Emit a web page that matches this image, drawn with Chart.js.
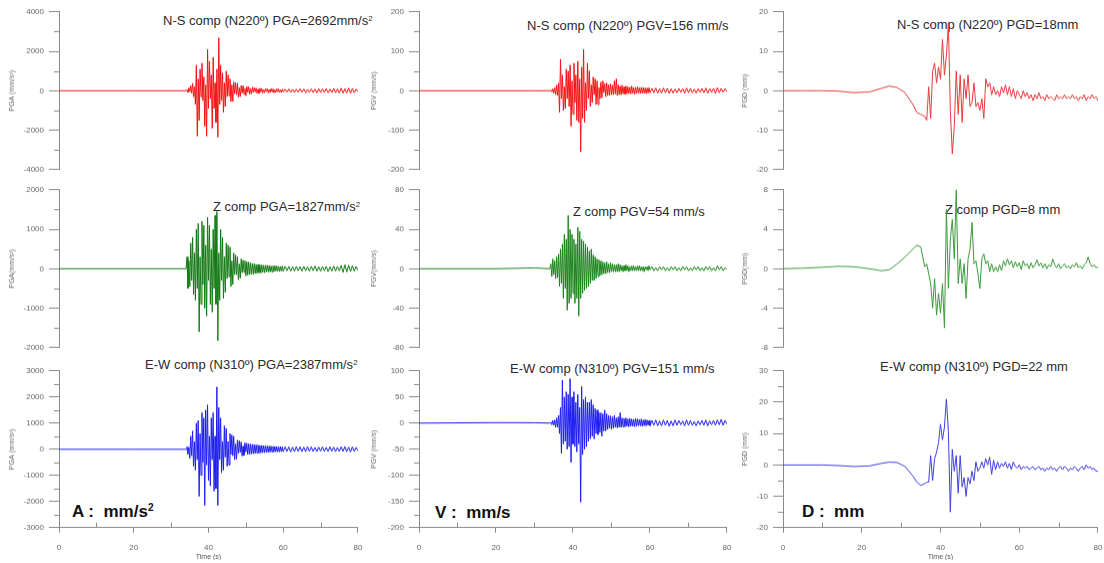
<!DOCTYPE html>
<html lang="en">
<head>
<meta charset="UTF-8">
<title>Strong motion records: acceleration, velocity, displacement</title>
<script src="https://cdn.jsdelivr.net/npm/chart.js"></script>
<style>
  body { margin: 0; width: 1104px; height: 563px; position: relative; overflow: hidden; background: #fff;
         font-family: Arial, "Liberation Sans", sans-serif; }
  canvas { position: absolute; }
  .lbl { position: absolute; white-space: nowrap; color: #2a2a2a; font-size: 13px; line-height: 1; }
  .big { position: absolute; white-space: nowrap; color: #111; font-size: 17px; font-weight: bold; line-height: 1; }
  sup { font-size: 0.6em; vertical-align: 0.55em; line-height: 0; }
</style>
</head>
<body>
<div class="lbl" style="left:163px;top:14px">N-S comp (N220º) PGA=2692mm/s<sup>2</sup></div>
<div class="lbl" style="left:527px;top:19px">N-S comp (N220º) PGV=156 mm/s</div>
<div class="lbl" style="left:897px;top:18px">N-S comp (N220º) PGD=18mm</div>
<div class="lbl" style="left:213px;top:200px">Z comp PGA=1827mm/s<sup>2</sup></div>
<div class="lbl" style="left:573px;top:205px">Z comp PGV=54 mm/s</div>
<div class="lbl" style="left:945px;top:203px">Z comp PGD=8 mm</div>
<div class="lbl" style="left:145px;top:358px">E-W comp (N310º) PGA=2387mm/s<sup>2</sup></div>
<div class="lbl" style="left:510px;top:362px">E-W comp (N310º) PGV=151 mm/s</div>
<div class="lbl" style="left:880px;top:360px">E-W comp (N310º) PGD=22 mm</div>
<div class="big" style="left:72px;top:503px">A :&nbsp; mm/s<sup>2</sup></div>
<div class="big" style="left:435px;top:504px">V :&nbsp; mm/s</div>
<div class="big" style="left:802px;top:503px">D :&nbsp; mm</div>

<script>
// sample times (s) for acceleration / velocity traces
const timeAV = [0, 20, 30, 34,
  34.25,34.5,34.75,35, 35.25,35.5,35.75,36, 36.25,36.5,36.75,37, 37.25,37.5,37.75,38,
  38.25,38.5,38.75,39, 39.25,39.5,39.75,40, 40.25,40.5,40.75,41, 41.25,41.5,41.75,42,
  42.25,42.5,42.75,43, 43.25,43.5,43.75,44, 44.25,44.5,44.75,45, 45.25,45.5,45.75,46,
  46.25,46.5,46.75,47, 47.25,47.5,47.75,48, 48.25,48.5,48.75,49, 49.25,49.5,49.75,50,
  50.25,50.5,50.75,51, 51.25,51.5,51.75,52, 52.25,52.5,52.75,53, 53.25,53.5,53.75,54,
  54.25,54.5,54.75,55, 55.25,55.5,55.75,56, 56.25,56.5,56.75,57, 57.25,57.5,57.75,58,
  58.25,58.5,58.75,59, 59.25,59.5,59.75,60,
  60.5,61,61.5,62,62.5,63,63.5,64,64.5,65, 65.5,66,66.5,67,67.5,68,68.5,69,69.5,70,
  70.5,71,71.5,72,72.5,73,73.5,74,74.5,75, 75.5,76,76.5,77,77.5,78,78.5,79,79.5,80];

// sample times (s) for displacement traces
const timeD = [0,5,10,14,18,22,25,27,29,31,33,34,35,36,
  36.5,37,37.5,38,38.5,39,39.5,40,40.5,41, 41.5,42,42.5,43,43.5,44,44.5,45,45.5,46,
  46.5,47,47.5,48,48.5,49,49.5,50,50.5,51, 51.5,52,52.5,53,53.5,54,54.5,55,55.5,56,
  56.5,57,57.5,58,58.5,59,59.5,60,60.5,61, 61.5,62,62.5,63,63.5,64,64.5,65,65.5,66,
  66.5,67,67.5,68,68.5,69,69.5,70,70.5,71, 71.5,72,72.5,73,73.5,74,74.5,75,75.5,76,
  76.5,77,77.5,78,78.5,79,79.5,80];

// acceleration (mm/s2)
const nsAcc = [0,0,0,0,
  40,-80,150,-60, 250,-120,380,-300, 200,-700,1300,-2300, 600,-1500,1100,-300,
  1400,-500,700,-1800, 300,-2300,2100,-900, 1500,-400,800,-1900, 1700,-900,400,-1600,
  1100,-2350,2692,-700, 1300,-500,900,-1100, 400,-800,1000,-300, 800,-250,600,-550,
  300,-550,450,-150, 420,-200,380,-330, 150,-300,260,-120, 260,-180,120,-250,
  220,-90,200,-170, 100,-160,180,-80, 160,-60,140,-130, 80,-140,130,-60,
  120,-110,50,-100, 110,-40,100,-110, 60,-90,110,-50, 90,-100,40,-90,
  100,-50,90,-90, 40,-90,85,-60,
  80,-70,90,-80,70,-90,80,-70,100,-80, 90,-100,70,-80,90,-90,80,-110,100,-90,
  90,-80,110,-100,80,-90,120,-100,90,-110, 130,-120,100,-110,140,-130,120,-100,80,-60];
const zAcc = [0,0,0,0,
  300,-500,200,-450, 650,-300,800,-650, 400,-800,1000,-500, 1150,-1600,300,-900,
  1200,-400,1100,-1000, 600,-1200,1300,-300, 1100,-900,500,-1100, 1000,-500,1350,-900,
  1450,-1827,400,-800, 1000,-300,800,-750, 300,-600,650,-250, 600,-200,550,-450,
  200,-400,400,-150, 350,-150,300,-280, 120,-240,250,-100, 220,-90,200,-180,
  180,-160,170,-150, 150,-140,130,-140, 130,-120,110,-120, 110,-100,100,-110,
  100,-90,90,-100, 90,-80,90,-80, 80,-80,70,-80, 70,-70,80,-60,
  70,-60,60,-70, 60,-60,70,-60,
  60,-50,60,-60,50,-60,60,-50,50,-60, 60,-50,50,-60,60,-50,70,-60,50,-60,
  60,-50,60,-70,50,-60,70,-60,60,-50, 80,-90,100,-80,90,-70,80,-60,60,-40];
const ewAcc = [0,0,0,0,
  100,-200,80,-350, 500,-250,700,-650, 300,-800,1000,-400, 1100,-1800,600,-1000,
  1400,-500,1200,-2150, 1500,-600,1700,-1200, 500,-1400,1200,-400, 1400,-1600,500,-1500,
  2387,-2150,1600,-400, 1200,-900,300,-800, 900,-300,800,-650, 300,-600,600,-200,
  550,-250,500,-400, 200,-380,350,-150, 330,-120,280,-260, 120,-240,250,-100,
  230,-200,210,-190, 200,-180,190,-170, 180,-160,170,-150, 160,-150,150,-140,
  150,-130,140,-130, 130,-120,130,-120, 120,-110,120,-100, 110,-100,110,-100,
  100,-100,90,-100, 100,-90,90,-90,
  90,-80,90,-100,80,-90,100,-80,90,-90, 80,-90,100,-80,90,-80,70,-90,80,-70,
  90,-80,70,-80,90,-70,80,-90,70,-80, 90,-80,100,-90,80,-100,90,-80,70,-60];

// velocity (mm/s)
const nsVel = [0,0,0,0,
  2,-3,5,-6, 8,-10,15,-12, 20,-55,80,-20, 40,-50,10,-45,
  55,-20,50,-40, 65,-90,25,-60, 70,-30,40,-75, 75,-80,30,-155,
  60,-70,105,-80, 20,-50,70,-20, 50,-40,15,-30, 35,-10,30,-35,
  25,-35,8,-20, 22,-18,25,-5, 18,-15,20,-12, 15,-12,18,-10,
  14,-10,25,-8, 30,-12,15,-10, 12,-10,14,-8, 10,-9,12,-8,
  10,-7,9,-8, 12,-6,8,-9, 9,-7,10,-6, 8,-7,9,-6,
  8,-6,7,-7, 7,-6,8,-5,
  6,-5,7,-6,5,-6,7,-5,6,-7, 5,-6,4,-5,6,-4,5,-6,7,-5,
  6,-5,4,-6,5,-4,6,-5,7,-6, 5,-4,6,-7,8,-5,6,-4,5,-3];
const zVel = [0,0,0.8,0,
  5,-8,10,-6, 8,-10,12,-9, 15,-18,20,-15, 25,-30,35,-20,
  30,-42,54,-35, 40,-30,35,-25, 30,-35,25,-30, 42,-48,38,-30,
  30,-25,28,-22, 25,-20,22,-18, 18,-15,20,-12, 14,-12,12,-10,
  10,-8,9,-7, 8,-6,7,-5, 6,-5,7,-4, 5,-4,6,-3,
  5,-3,4,-3, 4,-3,5,-3, 4,-2,3,-3, 3,-2,4,-2,
  3,-3,2,-2, 3,-2,3,-2, 2,-2,3,-2, 3,-2,2,-2,
  2,-3,2,-1, 2,-2,3,-1,
  2,-2,1,-2,2,-1,2,-2,1,-2, 2,-1,2,-2,1,-2,2,-1,2,-2,
  1,-2,2,-1,2,-2,1,-2,2,-1, 2,-2,1,-2,3,-1,2,-2,1,-1];
const ewVel = [0,1,0.8,0,
  2,-3,5,-4, 6,-8,10,-8, 15,-20,30,-58, 82,-40,50,-35,
  60,-50,55,-45, 85,-75,50,-40, 60,-45,40,-55, 55,-40,30,-151,
  70,-60,45,-50, 50,-45,40,-35, 40,-30,45,-25, 35,-30,28,-20,
  25,-22,20,-18, 20,-25,18,-15, 25,-15,18,-12, 15,-10,14,-12,
  12,-10,15,-8, 10,-9,12,-8, 20,-8,10,-7, 9,-7,10,-6,
  8,-7,9,-6, 8,-6,7,-7, 9,-6,8,-5, 7,-5,8,-6,
  6,-5,7,-5, 6,-4,5,-5,
  5,-4,6,-5,4,-5,6,-4,5,-6, 4,-5,6,-4,5,-3,4,-5,6,-4,
  5,-4,3,-5,4,-3,5,-4,6,-5, 4,-3,5,-4,6,-3,7,-4,5,-2];

// displacement (mm)
const nsDisp = [0,0,0,-0.1,-0.5,-0.3,0.6,1.2,0.8,-0.5,-3.5,-5.5,-6,-6.5,
  -7.5,1,-7,5,7,2,6,3,13,4, 9,17,-5,-16,-9,5,-6,4,-8,3,
  -2,4,-4,-3,2,-4,-3,-5,-2,-7, 3,1,2,-1,1,-1,0,-1.5,1,-0.5,
  1.5,-1,1,-1.5,0.5,-2,0,-1,-2,0, -1.5,-0.5,-2,-1,-2.5,-1,-2,-0.5,-2,-1.5,
  -2.5,-1,-2,-1.5,-2,-2.5,-1,-2,-1.5,-2, -1,-2,-1.5,-2,-1,-2,-1.5,-2.5,-1.5,-2,
  -1,-2.5,-1.5,-2,-1,-2,-1.5,-2.5];
const zDisp = [0,0.05,0.15,0.25,0.2,0,-0.2,-0.1,0.5,1.2,2,2.4,2.2,0.2,
  0.5,-0.5,-1.5,-4,-1,-4.7,-2.5,-4.5,-1.5,-6, 6,-2,3,5,1,8,-1.5,1,-1.5,0.5,
  -3,1,2,4.7,0.5,0.8,-0.5,-2,1,1.5, 0.5,0.8,-0.3,0.5,-0.3,0.2,-0.3,0.4,-0.2,0.8,
  0.3,1,0.4,0.8,0.1,0.7,0.2,0.6,-0.1,0.8, 0.3,0.5,0,0.6,0.1,0.4,0.9,0.3,0.6,0.1,
  0.5,0,0.4,0.2,1,0.4,0.1,0.5,0,0.3, 0.5,0.1,0.3,0,0.4,0.2,0.6,0.1,0.3,0,
  0.4,0.6,1.2,0.5,0.2,0.4,0.1,0.2];
const ewDisp = [0,0,0,-0.2,-0.5,-0.3,0.5,0.9,0.8,-0.5,-3.5,-5.5,-6.5,-6,
  -5.5,-5.5,3,-5,2,4,7,13,8,12, 21,11,-15,5,-2,3,-9,3,-7,-4,
  -10,-4,-6,-2,-5,1,-2,-1,1,-1, 2,0,2.5,-3,1.5,-1.5,1,-1,0.5,-0.5,
  1,-1,0.5,-1.5,1,-0.5,-1,0,-1.5,-0.5, -1,-0.5,-1.5,-1,-0.5,-1.5,-1,-0.5,-1.5,-1,
  -2,-1,-1.5,-0.5,-1.5,-1,-2,-1,-0.5,-1.5, -0.5,-1,-2,-1,-1.5,-0.5,-1,-2,-1,-0.5,
  -1.5,0,-1,-0.5,-1.5,-1,-2,-2];

// y axis: [min, max, major step, minor step]
const nsAccAxis = [-4000, 4000, 2000, 1000], nsVelAxis = [-200, 200, 100, 50], nsDispAxis = [-20, 20, 10, 5];
const zAccAxis = [-2000, 2000, 1000, 500], zVelAxis = [-80, 80, 40, 20], zDispAxis = [-8, 8, 4, 2];
const ewAccAxis = [-3000, 3000, 1000, 500], ewVelAxis = [-200, 100, 50, 25], ewDispAxis = [-20, 30, 10, 5];
const timeAxis = [0, 80, 20, 10];

const panels = [
  { row: 0, col: 0, t: timeAV, v: nsAcc, axis: nsAccAxis, yTitle: 'PGA (mm/s²)', color: '#f51414' },
  { row: 0, col: 1, t: timeAV, v: nsVel, axis: nsVelAxis, yTitle: 'PGV (mm/s)', color: '#f51414' },
  { row: 0, col: 2, t: timeD, v: nsDisp, axis: nsDispAxis, yTitle: 'PGD (mm)', color: '#e83c3c' },
  { row: 1, col: 0, t: timeAV, v: zAcc, axis: zAccAxis, yTitle: 'PGA(mm/s²)', color: '#147a14' },
  { row: 1, col: 1, t: timeAV, v: zVel, axis: zVelAxis, yTitle: 'PGV(mm/s)', color: '#1a841a' },
  { row: 1, col: 2, t: timeD, v: zDisp, axis: zDispAxis, yTitle: 'PGD(mm)', color: '#3a9a3a' },
  { row: 2, col: 0, t: timeAV, v: ewAcc, axis: ewAccAxis, yTitle: 'PGA (mm/s²)', color: '#1e1ef0' },
  { row: 2, col: 1, t: timeAV, v: ewVel, axis: ewVelAxis, yTitle: 'PGV (mm/s)', color: '#1e1ef0' },
  { row: 2, col: 2, t: timeD, v: ewDisp, axis: ewDispAxis, yTitle: 'PGD (mm)', color: '#4040e0' }
];

// plot area placement on the page
const colX = [59, 419, 783], colEnd = [358, 727, 1098];
const rowY = [12, 190, 371], rowEnd = [169, 347, 527];
const yTitlePad = [5, 7, 14];
const AXIS_W = 56, XAXIS_H = 33;
const AXIS_COLOR = '#8a8a8a';

Chart.defaults.font.family = 'Arial, "Liberation Sans", sans-serif';

// short minor ticks (Chart.js only draws one tick length)
const minorTicks = {
  id: 'minorTicks',
  afterDraw(chart, args, opts) {
    const ctx = chart.ctx;
    ctx.save();
    ctx.strokeStyle = AXIS_COLOR;
    ctx.lineWidth = 1;
    ctx.beginPath();
    const y = chart.scales.y;
    const [ymin, ymax, ymajor, yminor] = opts.y;
    for (let v = ymin; v <= ymax + 1e-9; v += yminor) {
      if (Math.abs(v / ymajor - Math.round(v / ymajor)) < 1e-6) continue;
      const py = Math.round(y.getPixelForValue(v)) + 0.5;
      ctx.moveTo(y.right - 5, py);
      ctx.lineTo(y.right, py);
    }
    const x = chart.scales.x;
    if (opts.x) {
      const [xmin, xmax, xmajor, xminor] = opts.x;
      for (let v = xmin; v <= xmax; v += xminor) {
        if (v % xmajor === 0) continue;
        const px = Math.round(x.getPixelForValue(v)) + 0.5;
        ctx.moveTo(px, x.top);
        ctx.lineTo(px, x.top - 5);
      }
    }
    ctx.stroke();
    ctx.restore();
  }
};

panels.forEach(p => {
  const canvas = document.createElement('canvas');
  document.body.appendChild(canvas);
  const last = p.row === 2;
  const tw = colEnd[p.col] - colX[p.col];
  const th = rowEnd[p.row] - rowY[p.row];
  canvas.width = tw + 70;
  canvas.height = th + (last ? 50 : 20);
  const [ymin, ymax, ystep] = p.axis;

  const chart = new Chart(canvas, {
    type: 'line',
    data: {
      datasets: [{
        data: p.t.map((t, i) => ({ x: t, y: p.v[i] })),
        borderColor: p.color,
        borderWidth: 1,
        pointRadius: 0,
        tension: 0
      }]
    },
    plugins: [minorTicks],
    options: {
      responsive: false,
      maintainAspectRatio: false,
      animation: false,
      devicePixelRatio: 1,
      events: [],
      layout: { padding: { top: 8, right: 8, bottom: last ? 0 : 8, left: 0 } },
      plugins: {
        legend: { display: false },
        tooltip: { enabled: false },
        minorTicks: { y: p.axis, x: last ? timeAxis : null }
      },
      scales: {
        x: {
          type: 'linear',
          min: timeAxis[0], max: timeAxis[1],
          display: last,
          afterFit: s => { s.height = XAXIS_H; },
          border: { display: true, color: AXIS_COLOR, width: 1 },
          grid: { drawOnChartArea: false, drawTicks: true, tickLength: 5, tickColor: AXIS_COLOR },
          ticks: { stepSize: timeAxis[2], color: '#666', font: { size: 8 }, padding: 10, maxRotation: 0,
                   callback: v => String(v) },
          title: { display: p.col !== 1, text: 'Time (s)', color: '#555', font: { size: 7 }, padding: 0 }
        },
        y: {
          min: ymin, max: ymax,
          afterFit: s => { s.width = AXIS_W; },
          border: { display: true, color: AXIS_COLOR, width: 1 },
          grid: { drawOnChartArea: false, drawTicks: true, tickLength: 10, tickColor: AXIS_COLOR },
          ticks: { stepSize: ystep, color: '#666', font: { size: 8 }, padding: 5, autoSkip: false,
                   callback: v => String(v) },
          title: { display: true, text: p.yTitle, color: '#666', font: { size: 7 },
                   padding: { top: yTitlePad[p.col], bottom: 0 } }
        }
      }
    }
  });

  // resize so the plot area lands exactly on the reference frame
  const a = chart.chartArea;
  chart.resize(canvas.width + tw - (a.right - a.left), canvas.height + th - (a.bottom - a.top));
  const b = chart.chartArea;
  canvas.style.left = (colX[p.col] - b.left) + 'px';
  canvas.style.top = (rowY[p.row] - b.top) + 'px';
});
</script>
</body>
</html>
